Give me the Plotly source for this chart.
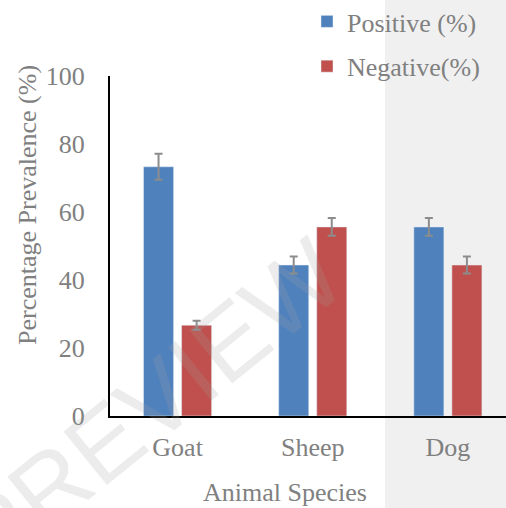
import plotly.graph_objects as go

species = ["Goat", "Sheep", "Dog"]
positive = [73.3, 44.4, 55.6]
negative = [26.7, 55.6, 44.4]
positive_err = [3.8, 2.5, 2.6]
negative_err = [1.3, 2.6, 2.5]
y_ticks = [0, 20, 40, 60, 80, 100]

FONT = "Liberation Serif"
TXT = "#808080"
W, H = 506, 508

fig = go.Figure()
fig.add_trace(go.Bar(
    name="Positive (%)", x=species, y=positive, marker_color="#4f81bd",
    error_y=dict(type="data", array=positive_err, color="#8c8c8c", thickness=2, width=4),
    legendgroup="a"))
fig.add_trace(go.Bar(
    name="Negative(%)", x=species, y=negative, marker_color="#c0504d",
    error_y=dict(type="data", array=negative_err, color="#8c8c8c", thickness=2, width=4),
    legendgroup="b"))

fig.update_layout(
    width=W, height=H,
    margin=dict(l=0, r=0, t=0, b=0, pad=0, autoexpand=False),
    paper_bgcolor="white", plot_bgcolor="rgba(0,0,0,0)",
    barmode="group", bargap=0.437, bargroupgap=0.21,
    font=dict(family=FONT, size=26, color=TXT),
    showlegend=True,
    legend=dict(x=307 / W, y=1.004, xanchor="left", yanchor="top",
                bgcolor="rgba(0,0,0,0)", font=dict(family=FONT, size=26, color=TXT),
                tracegroupgap=8),
    xaxis=dict(domain=[110 / W, 1.0], range=[-0.5, 2.43], showline=True,
               linecolor="black", linewidth=2, showgrid=False, ticks="",
               ticklabelstandoff=7, automargin=False,
               tickfont=dict(family=FONT, size=26, color=TXT)),
    yaxis=dict(domain=[1 - 416 / H, 1 - 76 / H], range=[0, 100], tickvals=y_ticks,
               showline=True, linecolor="black", linewidth=2, showgrid=False,
               zeroline=False, ticks="", ticklabelstandoff=18, automargin=False,
               tickfont=dict(family=FONT, size=26, color=TXT)),
    shapes=[dict(type="rect", xref="paper", yref="paper", x0=385 / W, x1=1.0,
                 y0=0, y1=1, fillcolor="#f0f0f0", line_width=0, layer="below")],
    annotations=[
        dict(text="Animal Species", xref="paper", yref="paper", x=285 / W,
             y=1 - 492 / H, xanchor="center", yanchor="middle", showarrow=False,
             font=dict(family=FONT, size=26, color=TXT)),
        dict(text="Percentage Prevalence (%)", xref="paper", yref="paper",
             x=28 / W, y=1 - 205 / H, xanchor="center", yanchor="middle",
             textangle=-90, showarrow=False,
             font=dict(family=FONT, size=26, color=TXT)),
        dict(text="PREVIEW", xref="paper", yref="paper", x=150 / W, y=1 - 405 / H,
             xanchor="center", yanchor="middle", textangle=-39, showarrow=False,
             font=dict(size=100, color="rgba(160,160,160,0.2)",
                       family="Liberation Sans")),
    ],
)

fig.write_html(
    "out.html",
    config={"displayModeBar": False},
    post_script="document.body.style.margin='0';document.body.style.overflow='hidden';",
)
